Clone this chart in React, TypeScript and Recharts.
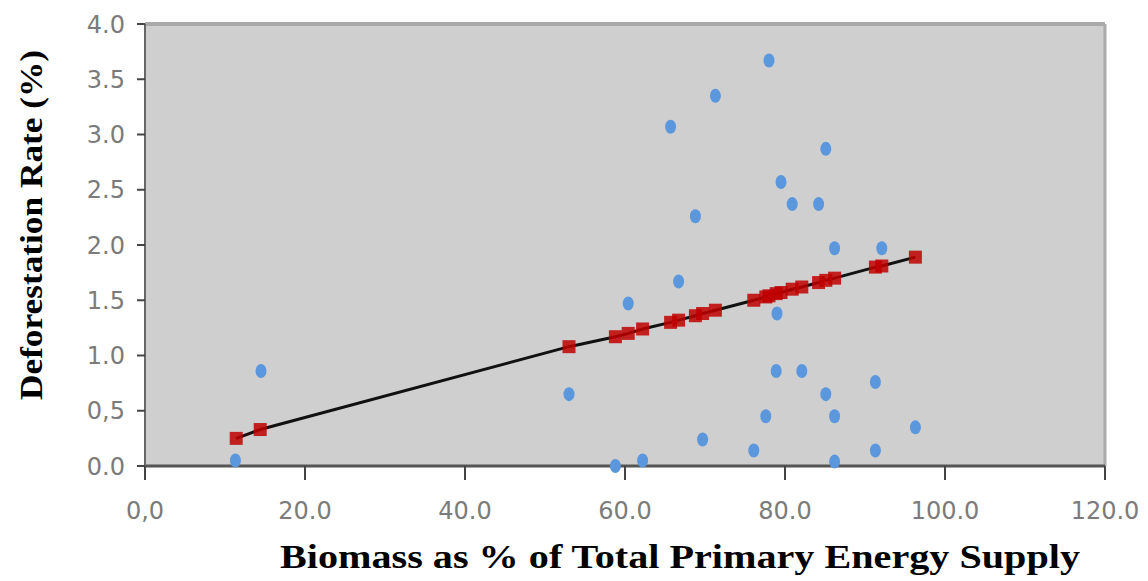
import {
  ComposedChart,
  Scatter,
  Line,
  XAxis,
  YAxis,
  CartesianGrid,
  ReferenceLine,
  Label,
} from "recharts";

// observed countries: biomass share of TPES (%) vs deforestation rate (%)
const biomassShare = [
  11.3, 14.5, 53.0, 58.8, 60.4, 62.2, 65.7, 66.7, 68.8, 69.7, 71.3, 76.1, 77.6, 78.0, 78.9,
  79.0, 79.5, 80.9, 82.1, 84.2, 85.1, 85.1, 86.2, 86.2, 86.2, 91.3, 91.3, 92.1, 96.3,
];
const deforestationRate = [
  0.05, 0.86, 0.65, 0.0, 1.47, 0.05, 3.07, 1.67, 2.26, 0.24, 3.35, 0.14, 0.45, 3.67, 0.86,
  1.38, 2.57, 2.37, 0.86, 2.37, 2.87, 0.65, 1.97, 0.45, 0.04, 0.76, 0.14, 1.97, 0.35,
];

// fitted (regression) values
const fittedShare = [
  11.4, 14.4, 53.0, 58.8, 60.4, 62.2, 65.7, 66.7, 68.8, 69.7, 71.3, 76.1, 77.6, 78.0, 78.9,
  79.5, 80.9, 82.1, 84.2, 85.1, 86.2, 91.3, 92.1, 96.3,
];
const fittedRate = [
  0.25, 0.33, 1.08, 1.17, 1.2, 1.24, 1.3, 1.32, 1.36, 1.38, 1.41, 1.5, 1.53, 1.54, 1.56,
  1.57, 1.6, 1.62, 1.66, 1.68, 1.7, 1.8, 1.81, 1.89,
];

const xTicks = [0, 20, 40, 60, 80, 100, 120];
const xTickLabels = ["0,0", "20.0", "40.0", "60.0", "80.0", "100.0", "120.0"];
const yTicks = [0, 0.5, 1, 1.5, 2, 2.5, 3, 3.5, 4];
const yTickLabels = ["0.0", "0,5", "1.0", "1.5", "2.0", "2.5", "3.0", "3.5", "4.0"];

const observed = biomassShare.map((x, i) => ({ x, y: deforestationRate[i] }));
const fitted = fittedShare.map((x, i) => ({ x, y: fittedRate[i] }));

const tickStyle = { fill: "#7b7b7b", fontSize: 24, fontFamily: "DejaVu Sans" };

const BlueDot = (p: any) => <ellipse cx={p.cx} cy={p.cy} rx={5.5} ry={7} fill="#5b97dc" />;
const RedSquare = (p: any) => (
  <rect x={p.cx - 6.5} y={p.cy - 6.5} width={13} height={13} fill="#c00000" fillOpacity={0.85} />
);

const XTitle = () => (
  <text
    x={680}
    y={568}
    textAnchor="middle"
    fontFamily="Liberation Serif"
    fontWeight="bold"
    fontSize={33}
    fill="#000"
    textLength={800}
    lengthAdjust="spacingAndGlyphs"
  >
    Biomass as % of Total Primary Energy Supply
  </text>
);

const YTitle = () => (
  <text
    x={0}
    y={0}
    transform="translate(42,225) rotate(-90)"
    textAnchor="middle"
    fontFamily="Liberation Serif"
    fontWeight="bold"
    fontSize={32}
    fill="#000"
    textLength={350}
    lengthAdjust="spacingAndGlyphs"
  >
    Deforestation Rate (%)
  </text>
);

export default function App() {
  return (
    <div style={{ position: "absolute", left: 0, top: 0, background: "#fff" }}>
      <ComposedChart width={1148} height={581} margin={{ top: 24, right: 43, left: 0, bottom: 0 }}>
        <CartesianGrid fill="#cfcfcf" stroke="none" />
        <XAxis
          type="number"
          dataKey="x"
          domain={[0, 120]}
          ticks={xTicks}
          tickFormatter={(v) => xTickLabels[xTicks.indexOf(v)]}
          height={115}
          tick={tickStyle}
          tickSize={14}
          tickMargin={22}
          tickLine={{ stroke: "#444", strokeWidth: 2 }}
          axisLine={{ stroke: "#555", strokeWidth: 3 }}
        >
          <Label content={<XTitle />} />
        </XAxis>
        <YAxis
          type="number"
          dataKey="y"
          domain={[0, 4]}
          ticks={yTicks}
          tickFormatter={(v) => yTickLabels[yTicks.indexOf(v)]}
          width={145}
          tick={tickStyle}
          tickSize={8}
          tickMargin={12}
          tickLine={{ stroke: "#444", strokeWidth: 2 }}
          axisLine={{ stroke: "#666", strokeWidth: 2 }}
        >
          <Label content={<YTitle />} />
        </YAxis>
        <ReferenceLine y={4} stroke="#a9a9a9" strokeWidth={4} />
        <ReferenceLine x={120} stroke="#aaaaaa" strokeWidth={3} />
        <Scatter data={observed} dataKey="y" shape={BlueDot} isAnimationActive={false} />
        <Scatter data={fitted} dataKey="y" shape={RedSquare} isAnimationActive={false} />
        <Line
          data={fitted}
          dataKey="y"
          type="linear"
          stroke="#111"
          strokeWidth={3}
          dot={false}
          activeDot={false}
          isAnimationActive={false}
        />
      </ComposedChart>
    </div>
  );
}
